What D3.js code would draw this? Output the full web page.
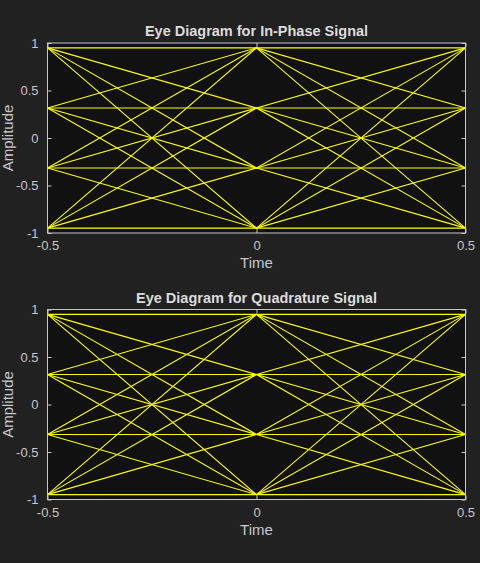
<!DOCTYPE html>
<html>
<head>
<meta charset="utf-8">
<script src="https://cdn.jsdelivr.net/npm/d3@7/dist/d3.min.js"></script>
<style>
html,body{margin:0;padding:0;background:#212121;}
svg{display:block;}
text{font-family:"Liberation Sans",Arial,Helvetica,sans-serif;}
</style>
</head>
<body>
<svg id="chart" width="480" height="563"></svg>
<script>
// 16-QAM amplitude levels (normalized)
const levels = [0.9487, 0.3162, -0.3162, -0.9487];
// each trace: amplitude at t=-0.5, t=0, t=0.5 (indices into levels)
const tracesI = [
  [0,0,0],[0,1,1],[0,2,2],[0,3,3],
  [1,0,1],[1,1,2],[1,2,3],[1,3,0],
  [2,0,2],[2,1,3],[2,2,0],[2,3,1],
  [3,0,3],[3,1,0],[3,2,1],[3,3,2]
];
const tracesQ = [
  [0,0,1],[0,1,2],[0,2,3],[0,3,0],
  [1,0,0],[1,1,1],[1,2,2],[1,3,3],
  [2,0,3],[2,1,0],[2,2,1],[2,3,2],
  [3,0,2],[3,1,3],[3,2,0],[3,3,1]
];
const timePoints = [-0.5, 0, 0.5];
const xTicks = [-0.5, 0, 0.5];
const yTicks = [-1, -0.5, 0, 0.5, 1];
const titles = ["Eye Diagram for In-Phase Signal", "Eye Diagram for Quadrature Signal"];

const svg = d3.select("#chart");
const panels = [
  {top:43, bottom:233, traces:tracesI, title:titles[0]},
  {top:309.5, bottom:499.5, traces:tracesQ, title:titles[1]}
];
const left = 47.5, right = 465.5;
const axisColor = "#c8c8c8";
const fmt = d => String(d);

panels.forEach(p => {
  const x = d3.scaleLinear().domain([-0.5, 0.5]).range([left, right]);
  const y = d3.scaleLinear().domain([-1, 1]).range([p.bottom, p.top]);
  const g = svg.append("g");
  g.append("rect").attr("x", left).attr("y", p.top)
    .attr("width", right-left).attr("height", p.bottom-p.top)
    .attr("fill", "#111111");
  const line = d3.line().x((d,i)=>x(timePoints[i])).y(d=>y(levels[d]));
  g.append("g").selectAll("path").data(p.traces).join("path")
    .attr("d", line).attr("fill","none")
    .attr("stroke","#ffff00").attr("stroke-width",1.1);
  // axes
  const ax = (gen, tr) => {
    const a = g.append("g").attr("transform", tr).call(gen);
    a.select(".domain").remove();
    a.selectAll("line").attr("stroke", axisColor);
    a.selectAll("text").attr("fill", axisColor).style("font-size","13px").style("font-family","'Liberation Sans',Arial,sans-serif");
    return a;
  };
  ax(d3.axisBottom(x).tickValues(xTicks).tickSize(-4).tickPadding(8).tickFormat(fmt), `translate(0,${p.bottom})`);
  ax(d3.axisTop(x).tickValues(xTicks).tickSize(-4).tickFormat(""), `translate(0,${p.top})`);
  ax(d3.axisLeft(y).tickValues(yTicks).tickSize(-4).tickPadding(9).tickFormat(fmt), `translate(${left},0)`);
  ax(d3.axisRight(y).tickValues(yTicks).tickSize(-4).tickFormat(""), `translate(${right},0)`);
  g.append("rect").attr("x", left).attr("y", p.top)
    .attr("width", right-left).attr("height", p.bottom-p.top)
    .attr("fill", "none").attr("stroke", axisColor).attr("stroke-width",1);
  g.append("text").attr("x", (left+right)/2).attr("y", p.top-7)
    .attr("text-anchor","middle").attr("fill","#dcdcdc")
    .style("font-size","14.5px").style("font-weight","bold").text(p.title);
  g.append("text").attr("x", (left+right)/2).attr("y", p.bottom+35)
    .attr("text-anchor","middle").attr("fill",axisColor)
    .style("font-size","15px").text("Time");
  g.append("text").attr("transform", `translate(13,${(p.top+p.bottom)/2}) rotate(-90)`)
    .attr("text-anchor","middle").attr("fill",axisColor)
    .style("font-size","15px").text("Amplitude");
});
</script>
</body>
</html>
